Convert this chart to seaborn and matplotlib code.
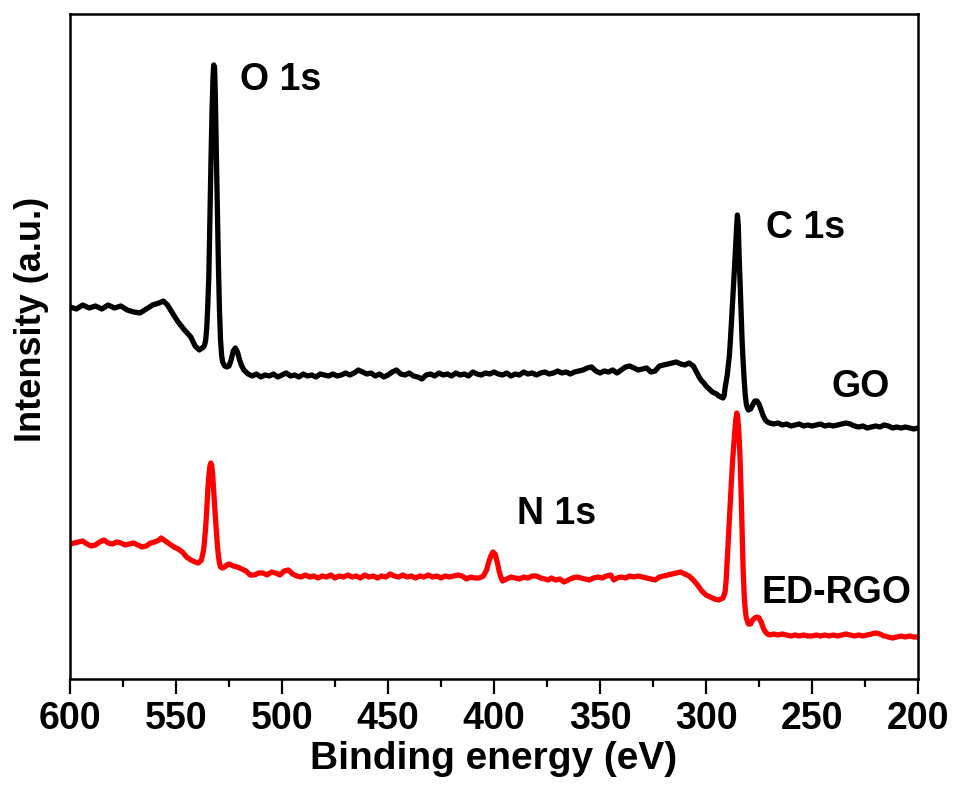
import numpy as np
import pandas as pd
import matplotlib
matplotlib.use("Agg")
import matplotlib.pyplot as plt
import seaborn as sns
from matplotlib.ticker import MultipleLocator

# ---- XPS survey spectra (binding energy in eV, intensity in arbitrary units) ----
go_energy = [
    600, 597, 594, 591, 588, 585, 582, 579, 576, 573, 570, 567, 564, 561, 558, 556, 554, 552, 549, 546,
    543, 541, 539, 537, 536.5, 536, 535.5, 535, 534.5, 534, 533.5, 533, 532.5, 532.2, 531.8, 531.4, 531,
    530.5, 530, 529.5, 529, 528.5, 528, 527, 526, 525, 524, 523, 522, 521, 520, 519, 518, 516, 514,
    512, 510, 508, 506, 504, 502, 500, 498, 496, 494, 492, 490, 488, 486, 484, 482, 480, 478, 476, 474,
    472, 470, 468, 466, 464, 462, 460, 458, 456, 454, 452, 450, 448, 446, 444, 442, 440, 438, 436, 434,
    432, 430, 428, 426, 424, 422, 420, 418, 416, 414, 412, 410, 408, 406, 404, 402, 400, 398, 396, 394,
    392, 390, 388, 386, 384, 382, 380, 378, 376, 374, 372, 370, 368, 366, 364, 362, 360, 358, 356, 354,
    352, 350, 348, 346, 344, 342, 340, 338, 336, 334, 332, 330, 328, 326, 324, 322, 320, 318, 316, 314,
    312, 310, 308, 306, 305, 304, 303, 302, 301, 300, 299, 298, 297, 296, 295, 294, 293,
    292, 291.5, 291, 290, 289, 288.5, 288, 287.5, 287, 286.5, 286, 285.6, 285.2, 284.8, 284.4, 284,
    283.5, 283, 282.5, 282, 281.5, 281, 280.5, 280, 279, 278, 277, 276, 275, 274, 273, 272, 271,
    270, 268, 266, 264, 262, 260, 258, 256, 254, 252, 250, 248, 246, 244, 242, 240, 238, 236, 234, 232,
    230, 228, 226, 224, 222, 220, 218, 216, 214, 212, 210, 208, 206, 204, 202, 200,
]
go_intensity = [
    372, 370, 374, 371, 373, 370, 374, 371, 373, 369, 367, 366, 370, 374, 376, 378, 374, 367, 357, 349,
    342, 333, 329, 332, 334, 339, 351, 374, 404, 459, 519, 569, 604, 614, 611, 579, 529,
    469, 414, 369, 339, 324, 317, 313, 312, 313, 319, 328, 331, 327, 319, 313, 309, 305, 303,
    305, 302, 304, 303, 305, 302, 304, 306, 303, 304, 302, 305, 303, 304, 302, 305, 304, 303, 305, 303,
    304, 306, 304, 306, 309, 307, 305, 306, 303, 305, 302, 304, 307, 309, 305, 304, 306, 303, 302, 300,
    304, 305, 303, 306, 304, 305, 303, 306, 304, 305, 303, 307, 305, 304, 306, 305, 307, 305, 304, 306,
    303, 305, 304, 307, 305, 306, 304, 306, 307, 305, 306, 308, 306, 307, 305, 307, 308, 309, 311, 312,
    308, 306, 308, 307, 309, 306, 309, 312, 313, 311, 309, 310, 311, 307, 308, 313, 314, 315, 316, 317,
    315, 314, 316, 313, 309, 305, 301, 298, 296, 293, 291, 289, 287, 286, 285, 283, 282,
    281, 283, 291, 304, 323, 339, 357, 376, 394, 414, 434, 451, 464, 454, 424, 399,
    369, 339, 317, 299, 284, 275, 271, 269, 270, 274, 278, 278, 275, 269, 263, 259, 257,
    256, 255, 256, 254, 255, 253, 254, 255, 253, 254, 253, 254, 255, 253, 254, 253, 254, 255, 256, 255,
    253, 252, 253, 251, 252, 253, 252, 254, 253, 251, 252, 251, 252, 251, 250, 251,
]

rgo_energy = [
    600, 598, 596, 594, 592, 590, 588, 586, 584, 582, 580, 578, 576, 574, 572, 570, 568, 566, 564, 562,
    560, 558, 557, 555, 553, 551, 549, 547, 545, 543, 541, 539.5, 538, 537, 536.5, 536, 535.5, 535,
    534.5, 534, 533.6, 533.2, 532.8, 532.4, 532, 531.5, 531, 530.5, 530, 529.5, 529, 528, 527, 526,
    525, 523, 521, 519, 517, 515, 513, 511, 509, 507, 505, 503, 501, 499, 497, 495, 493, 491, 489, 487,
    485, 483, 481, 479, 477, 475, 473, 471, 469, 467, 465, 463, 461, 459, 457, 455, 453, 451, 449, 447,
    445, 443, 441, 439, 437, 435, 433, 431, 429, 427, 425, 423, 421, 419, 417, 415, 413, 411, 409, 407,
    405, 403.5, 402.5, 401.5, 400.5, 399.5, 398.5, 397.5, 396.5, 396, 394, 392, 390, 388, 386, 384, 382,
    380, 378, 376, 374.5, 373, 371, 369, 367, 365, 363, 361, 359, 357, 355, 353, 351, 349, 347, 345,
    343.5, 342, 340, 338, 336, 334, 332, 330, 328, 326, 324, 322, 320, 318, 316, 314, 312, 310, 308, 306,
    304, 302, 300, 298, 296, 294, 293, 292, 291, 290.5, 290, 289.5, 289, 288.5, 288, 287.5, 287, 286.5,
    286, 285.5, 285, 284.5, 284, 283.5, 283, 282.5, 282, 281.5, 281, 280, 279, 278, 277, 276, 275, 274,
    273, 272, 271, 270, 268, 266, 264, 262, 260, 258, 256, 254, 252, 250, 248, 246, 244, 242, 240, 238,
    236, 234, 232, 230, 228, 226, 224, 222, 220, 218, 216, 214, 212, 210, 208, 206, 204, 202, 200,
]
rgo_intensity = [
    135, 136, 137, 138, 135, 133, 134, 137, 139, 136, 135, 137, 136, 134, 135, 136, 134, 132, 133, 136,
    137, 139, 141, 138, 135, 132, 130, 127, 122, 119, 117, 116, 119, 129, 139, 152, 169, 189,
    203, 213, 216, 214, 207, 195, 181, 164, 149, 134, 123, 116, 112, 111, 112, 114,
    115, 113, 112, 110, 108, 104, 104, 106, 106, 104, 107, 106, 104, 108, 109, 105, 103, 102, 104, 102,
    103, 101, 103, 102, 104, 101, 103, 102, 104, 102, 103, 101, 104, 102, 103, 101, 103, 102, 105, 103,
    102, 104, 102, 103, 101, 103, 102, 104, 102, 103, 101, 103, 102, 103, 104, 103, 100, 102, 101, 101,
    103, 109, 117, 123, 127, 125, 117, 107, 100, 98, 100, 102, 101, 100, 102, 101, 103,
    103, 101, 100, 99, 101, 99, 100, 97, 99, 101, 102, 101, 100, 99, 101, 102, 101, 103, 104,
    99, 101, 102, 101, 103, 102, 103, 102, 101, 100, 99, 102, 103, 104, 105, 106, 107, 105, 103, 99,
    94, 88, 84, 82, 80, 79, 80, 81, 87, 99, 119, 139, 159, 179, 199, 217, 232, 246,
    259, 266, 261, 246, 224, 189, 149, 109, 84, 69, 61, 55, 55, 59, 61, 62, 61, 57,
    51, 47, 45, 44, 45, 44, 45, 44, 43, 44, 43, 44, 43, 43, 44, 43, 44, 43, 44, 43,
    44, 45, 44, 43, 44, 43, 44, 45, 46, 45, 43, 42, 41, 42, 43, 42, 43, 42, 42,
]

peak_labels = ["O 1s", "C 1s", "N 1s"]
peak_label_pos = [(519.7, 599), (271.8, 451), (389.0, 165)]
sample_labels = ["GO", "ED-RGO"]
sample_label_pos = [(241.0, 292), (274.0, 86)]

x_ticks = [600, 550, 500, 450, 400, 350, 300, 250, 200]

sns.set_theme(style="white")
plt.rcParams["font.family"] = ["Liberation Sans", "DejaVu Sans"]
plt.rcParams["font.weight"] = "bold"
plt.rcParams["text.color"] = "black"
plt.rcParams["axes.labelcolor"] = "black"
plt.rcParams["xtick.color"] = "black"
plt.rcParams["ytick.color"] = "black"

df = pd.concat([
    pd.DataFrame({"E": go_energy, "I": go_intensity, "sample": "GO"}),
    pd.DataFrame({"E": rgo_energy, "I": rgo_intensity, "sample": "ED-RGO"}),
])

fig = plt.figure(figsize=(9.55, 7.9), dpi=100)
ax = fig.add_axes([0.0733, 0.1405, 0.8880, 0.8418])

sns.lineplot(data=df, x="E", y="I", hue="sample", palette={"GO": "black", "ED-RGO": "#ff0000"},
             linewidth=3.8, legend=False, ax=ax, estimator=None)

ax.set_xlim(600, 200)
ax.set_ylim(0, 665)
ax.set_xticks(x_ticks)
ax.xaxis.set_minor_locator(MultipleLocator(25))
ax.set_yticks([])
ax.tick_params(axis="x", which="major", direction="out", length=11, width=1.6,
               labelsize=27, pad=5, labelcolor="black", color="black", bottom=True)
ax.tick_params(axis="x", which="minor", direction="out", length=6, width=1.6,
               color="black", bottom=True)
for lab in ax.get_xticklabels():
    lab.set_fontweight("bold")
for s in ax.spines.values():
    s.set_linewidth(1.8)
    s.set_color("black")

ax.set_xlabel("Binding energy (eV)", fontsize=28, fontweight="bold", color="black", labelpad=3)
ax.set_ylabel("Intensity (a.u.)", fontsize=26, fontweight="bold", color="black")
ax.yaxis.set_label_coords(-0.025, 0.54)

for txt, (x, y) in zip(peak_labels, peak_label_pos):
    ax.text(x, y, txt, fontsize=27, fontweight="bold", color="black", ha="left", va="center")
for txt, (x, y) in zip(sample_labels, sample_label_pos):
    ax.text(x, y, txt, fontsize=27, fontweight="bold", color="black", ha="left", va="center")

fig.savefig("out.png", dpi=100)
